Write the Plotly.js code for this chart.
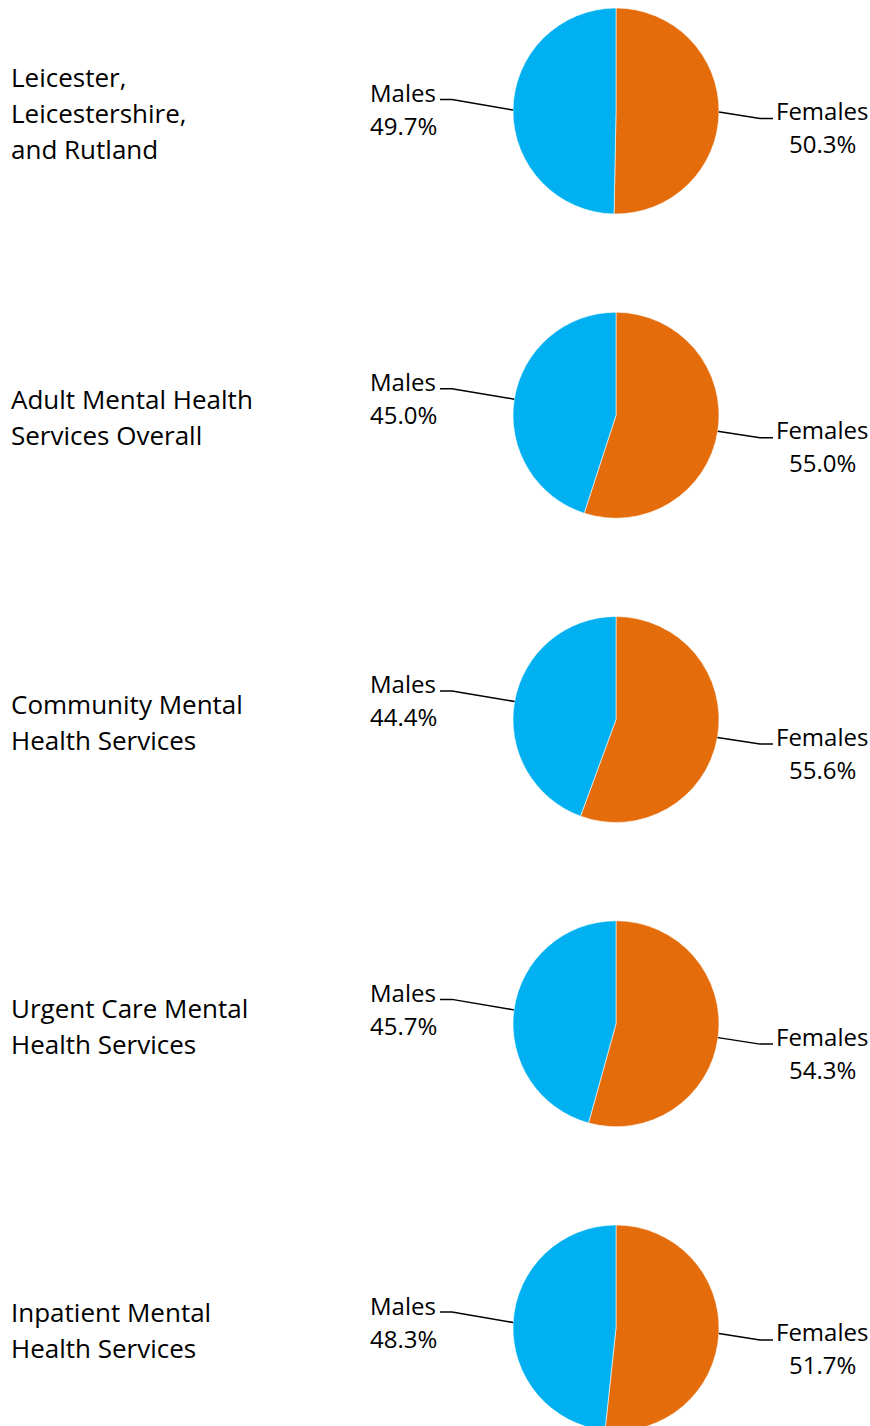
<!DOCTYPE html>
<html>
<head>
<meta charset="utf-8">
<script src="https://cdn.plot.ly/plotly-3.0.1.min.js"></script>
<style>
html,body{margin:0;padding:0;overflow:hidden;background:#fff;}
#chart{width:870px;height:1440px;}
</style>
</head>
<body>
<div id="chart"></div>
<script>
// ---- data ----
var categories = [
  ["Leicester,", "Leicestershire,", "and Rutland"],
  ["Adult Mental Health", "Services Overall"],
  ["Community Mental", "Health Services"],
  ["Urgent Care Mental", "Health Services"],
  ["Inpatient Mental", "Health Services"]
];
var sliceLabels = ["Females", "Males"];
var females = [50.3, 55.0, 55.6, 54.3, 51.7];
var males = [49.7, 45.0, 44.4, 45.7, 48.3];

// ---- layout constants ----
var W = 870, H = 1440;
var pieLeft = 513, pieRight = 719;
var firstCenterY = 111, pieStep = 304.25;
var colors = ["#E46C0A", "#00B0F0"];
var fontFam = '"Open Sans", "Noto Sans", sans-serif';

function px(x){ return x / W; }
function py(y){ return 1 - y / H; }

var traces = [], annotations = [], shapes = [];
var r = (pieRight - pieLeft) / 2;
var cx = (pieLeft + pieRight) / 2;

function addText(t, x, y, xanchor, size){
  annotations.push({
    xref: 'paper', yref: 'paper', x: px(x), y: py(y),
    xanchor: xanchor, yanchor: 'middle', showarrow: false,
    text: t, font: {family: fontFam, size: size, color: '#000'}
  });
}

categories.forEach(function(lines, i){
  var cy = firstCenterY + pieStep * i;
  var vals = [females[i], males[i]];
  traces.push({
    type: 'pie',
    values: vals,
    labels: sliceLabels,
    sort: false,
    direction: 'clockwise',
    rotation: 0,
    textinfo: 'none',
    hoverinfo: 'none',
    showlegend: false,
    marker: {colors: colors, line: {color: 'rgba(255,255,255,0.7)', width: 0.8}},
    domain: {x: [px(pieLeft), px(pieRight)], y: [py(cy + r), py(cy - r)]}
  });

  // title lines
  var n = lines.length, lh = 36;
  lines.forEach(function(t, j){
    addText(t, 9, cy + 2 + (j - (n - 1) / 2) * lh, 'left', 26);
  });

  // slice labels with leader lines
  var total = vals[0] + vals[1];
  var cum = 0;
  vals.forEach(function(v, k){
    var mid = (cum + v / 2) / total * 2 * Math.PI;
    cum += v;
    var ex = cx + r * Math.sin(mid), ey = cy - r * Math.cos(mid);
    var isF = (k === 0);
    var blockY = isF ? ey + 15 : ey - 1;
    var firstY = blockY - 16.5, secondY = blockY + 16.5;
    var lineY = firstY + (isF ? 8 : 7);
    var elbowX = isF ? 760 : 452;
    var endX = isF ? 773 : 440;
    var labelX = isF ? 822 : 403;
    shapes.push({
      type: 'path', xref: 'paper', yref: 'paper',
      path: 'M ' + px(ex) + ' ' + py(ey) + ' L ' + px(elbowX) + ' ' + py(lineY) + ' L ' + px(endX) + ' ' + py(lineY),
      line: {color: '#000', width: 1.5}
    });
    addText(sliceLabels[k], labelX, firstY, 'center', 24);
    addText(v.toFixed(1) + '%', labelX, secondY, 'center', 24);
  });
});

var layout = {
  width: W, height: H,
  margin: {l: 0, r: 0, t: 0, b: 0},
  paper_bgcolor: '#fff', plot_bgcolor: '#fff',
  annotations: annotations,
  shapes: shapes,
  showlegend: false
};
Plotly.newPlot('chart', traces, layout, {staticPlot: true, displayModeBar: false});
</script>
</body>
</html>
